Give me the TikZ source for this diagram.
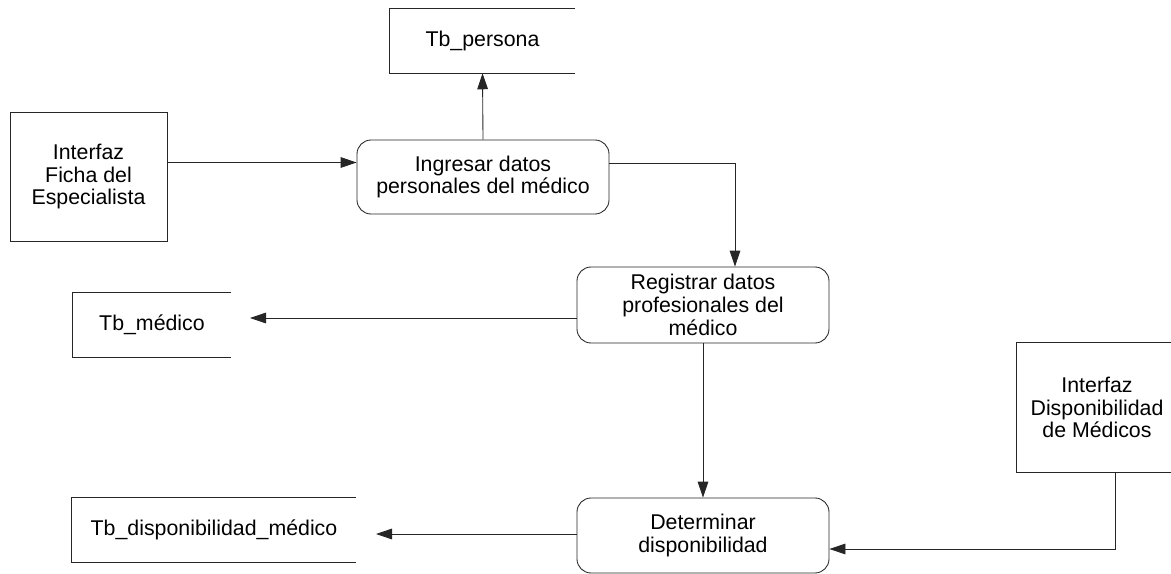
\documentclass[tikz,border=0pt]{standalone}
\usepackage{fontspec}
\setmainfont{Liberation Sans}
\usetikzlibrary{arrows.meta}
\begin{document}
\begin{tikzpicture}[x=0.75pt,y=-0.75pt,
  every node/.style={font=\fontsize{16}{17}\selectfont, align=center, inner sep=0pt},
  ln/.style={line width=0.65pt, draw=black!85},
  entity/.style={ln, minimum width=#1},
  % entity whose right side runs past the edge of the sheet
  wideentity/.style={minimum width=#1,
    append after command={\pgfextra{\draw[ln]
      ([xshift=40pt]\tikzlastnode.north east) -- (\tikzlastnode.north west)
      -- (\tikzlastnode.south west) -- ([xshift=40pt]\tikzlastnode.south east);}}},
  process/.style={ln, rounded corners=10.5pt, minimum width=189pt},
  store/.style={minimum height=48pt, minimum width=#1,
    append after command={\pgfextra{\draw[ln]
      (\tikzlastnode.north east) -- (\tikzlastnode.north west)
      -- (\tikzlastnode.south west) -- (\tikzlastnode.south east);}}},
  flow/.style={ln, -{Triangle[length=12pt,width=8pt]}}]
\useasboundingbox (0,0) rectangle (1171,574);

% data stores
\node[store=138.75pt] (persona) at (482.5,41) {Tb\_persona};
\node[store=118.5pt] (medico) at (152,325) {Tb\_médico};
\node[store=213pt] (tbdisp) at (214,530) {Tb\_disponibilidad\_médico};

% external entities
\node[entity=117.75pt, minimum height=96.75pt] (ficha) at (88.5,176.5)
  {Interfaz\\Ficha del\\Especialista};
\node[wideentity=120pt, minimum height=96.75pt] (dispo) at (1097,407.5)
  {Interfaz\\Disponibilidad\\de Médicos};

% processes
\node[process, minimum height=55.5pt] (ingresar) at (483,177)
  {Ingresar datos\\personales del médico};
\node[process, minimum height=57pt] (registrar) at (703,305)
  {Registrar datos\\profesionales del\\médico};
\node[process, minimum height=56.25pt] (determinar) at (703,535.5)
  {Determinar\\disponibilidad};

% free ends of the flows into the stores
\coordinate (medin) at (250,318);
\coordinate (dispin) at (376,534);

% flows
\draw[flow] (ingresar.north) -- (persona.south);
\draw[flow] ([yshift=10.5pt]ficha.east) -- ([yshift=10.5pt]ficha.east -| ingresar.west);
\draw[flow] ([yshift=10.5pt]ingresar.east) -| ([xshift=24pt]registrar.north);
\draw[flow] (registrar.west |- medin) -- (medin);
\draw[flow] (registrar.south) -- (determinar.north);
\draw[flow] (determinar.west |- dispin) -- (dispin);
\draw[flow] ([xshift=13.5pt]dispo.south) |- ([yshift=-10.125pt]determinar.east);
\end{tikzpicture}
\end{document}
